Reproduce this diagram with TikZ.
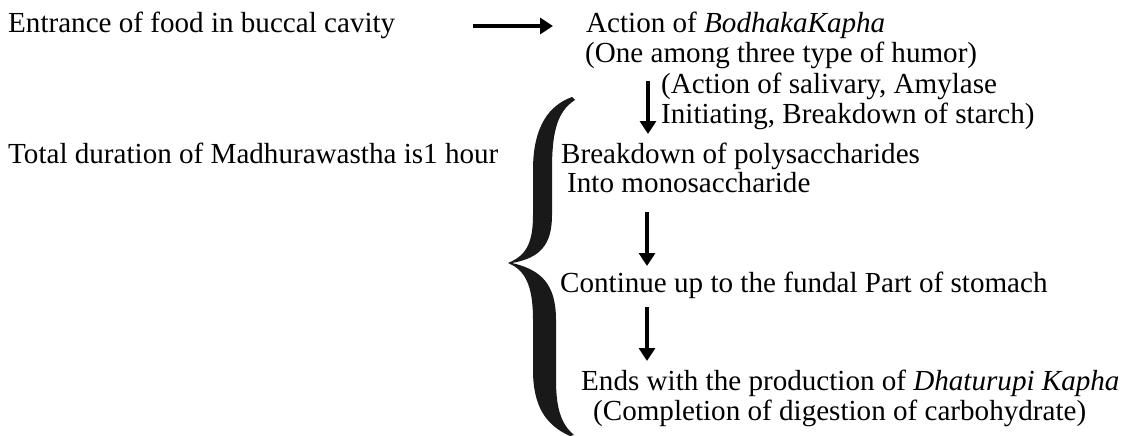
\documentclass[tikz,border=0pt]{standalone}
\usepackage{fontspec}
\setmainfont{Liberation Serif}
\usetikzlibrary{arrows.meta}
\begin{document}
\begin{tikzpicture}[x=1pt,y=-1pt,
  txt/.style={anchor=base west,inner sep=0pt,font=\fontsize{29.1pt}{30pt}\selectfont},
  arr/.style={line width=3.2pt,-{Triangle[length=13pt,width=16pt]}}]
\useasboundingbox (0,0) rectangle (1129,436);
% left texts
\node[txt] (entr) at (8,33) {Entrance of food in buccal cavity};
\node[txt] (total) at (8,163) {Total duration of Madhurawastha is1 hour};
% right texts
\node[txt] (act) at (586,33) {Action of \textit{BodhakaKapha}};
\node[txt] (one) at (585,63) {(One among three type of humor)};
\node[txt] (sal) at (661,93) {(Action of salivary, Amylase};
\node[txt] (ini) at (661,123) {Initiating, Breakdown of starch)};
\node[txt] (brk) at (561,163) {Breakdown of polysaccharides};
\node[txt] (into) at (567,192) {Into monosaccharide};
\node[txt] (cont) at (560,292) {Continue up to the fundal Part of stomach};
\node[txt] (ends) at (581,390) {Ends with the production of \textit{Dhaturupi Kapha}};
\node[txt] (comp) at (593,420) {(Completion of digestion of carbohydrate)};
% arrow ends
\coordinate (h1) at (473,26);
\coordinate (h2) at (553,26);
\coordinate (v1a) at (648,81);
\coordinate (v1b) at (648,134);
\coordinate (v2a) at (647,212);
\coordinate (v2b) at (647,266);
\coordinate (v3a) at (647,307);
\coordinate (v3b) at (647,361);
\draw[arr] (h1) -- (h2);
\draw[arr] (v1a) -- (v1b);
\draw[arr] (v2a) -- (v2b);
\draw[arr] (v3a) -- (v3b);
% brace
\fill[black!90] (575,100) .. controls (556,112) and (552,135) .. (552,170)
  -- (552,215) .. controls (552,245) and (540,258) .. (512,263)
  .. controls (542,270) and (556,285) .. (556,320)
  -- (556,380) .. controls (556,410) and (562,425) .. (574,435)
  -- (570,436) .. controls (545,425) and (533,405) .. (533,370)
  -- (533,320) .. controls (533,285) and (525,270) .. (508,263)
  .. controls (525,256) and (533,245) .. (533,215)
  -- (533,170) .. controls (533,125) and (550,105) .. (572,97) -- cycle;
\end{tikzpicture}
\end{document}
